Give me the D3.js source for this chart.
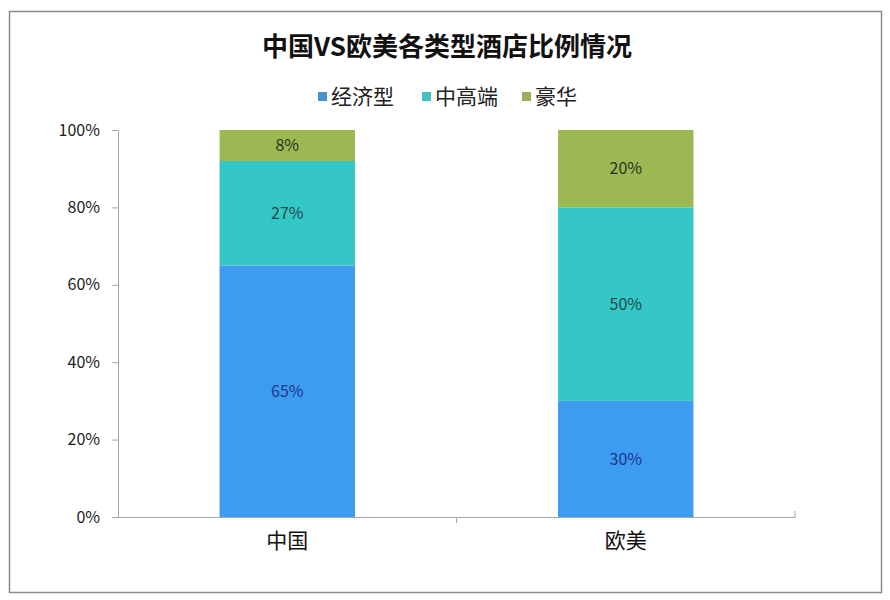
<!DOCTYPE html>
<html>
<head>
<meta charset="utf-8">
<script src="https://cdn.jsdelivr.net/npm/d3@7/dist/d3.min.js"></script>
<style>
  html, body { margin: 0; padding: 0; background: #fff; }
  svg { display: block; }
</style>
</head>
<body>
<svg id="chart" width="890" height="600"></svg>
<script>
// ---- data ----
const categories = ["中国", "欧美"];
const seriesNames = ["经济型", "中高端", "豪华"];
const economy = [65, 30];
const midHigh = [27, 50];
const luxury = [8, 20];
const yTicks = [0, 20, 40, 60, 80, 100];
const title = "中国VS欧美各类型酒店比例情况";

const colors = ["#3d9bf0", "#35c6c6", "#9bb852"];
const legendColors = ["#4a8fd0", "#45bfc0", "#9cae5c"];
const labelColors = ["#1f3590", "#1d4a50", "#2a3320"];

const svg = d3.select("#chart");
const font = "'Noto Sans CJK SC', 'Liberation Sans', sans-serif";

// outer frame
svg.append("rect").attr("x", 9.5).attr("y", 11.5).attr("width", 872).attr("height", 581)
  .attr("fill", "#fff").attr("stroke", "#8c8c8c").attr("stroke-width", 1.5);

// title
svg.append("text").attr("x", 447).attr("y", 56).attr("text-anchor", "middle")
  .attr("font-family", font).attr("font-weight", "bold").attr("font-size", 26)
  .attr("fill", "#111").text(title);

// scales
const x = d3.scaleBand().domain(categories).range([118, 795]).padding(0);
const y = d3.scaleLinear().domain([0, 100]).range([517, 130]);
const barW = x.bandwidth() * 0.4;

// stack
const rows = categories.map((c, i) => ({ cat: c, "经济型": economy[i], "中高端": midHigh[i], "豪华": luxury[i] }));
const stacked = d3.stack().keys(seriesNames)(rows);

const g = svg.append("g");
stacked.forEach((layer, li) => {
  g.selectAll(null).data(layer).enter().append("rect")
    .attr("x", d => x(d.data.cat) + (x.bandwidth() - barW) / 2)
    .attr("width", barW)
    .attr("y", d => y(d[1]))
    .attr("height", d => y(d[0]) - y(d[1]))
    .attr("fill", colors[li]);
  g.selectAll(null).data(layer).enter().append("text")
    .attr("x", d => x(d.data.cat) + x.bandwidth() / 2)
    .attr("y", d => (y(d[0]) + y(d[1])) / 2)
    .attr("dy", "0.35em")
    .attr("text-anchor", "middle")
    .attr("font-family", font).attr("font-size", 16)
    .attr("fill", labelColors[li])
    .text(d => (d[1] - d[0]) + "%");
});

// y axis
const yAxis = d3.axisLeft(y).tickValues(yTicks).tickFormat(d => d + "%").tickSize(6).tickPadding(12);
const ya = svg.append("g").attr("transform", "translate(118,0)").call(yAxis);
ya.select(".domain").attr("stroke", "#a6a6a6");
ya.selectAll(".tick line").attr("stroke", "#a6a6a6");
ya.selectAll(".tick text").attr("font-family", font).attr("font-size", 16).attr("fill", "#222");

// x axis
const xAxis = d3.axisBottom(x).tickSize(0).tickPadding(16);
const xa = svg.append("g").attr("transform", "translate(0,517)").call(xAxis);
xa.select(".domain").attr("stroke", "#a6a6a6");
xa.selectAll(".tick text").attr("font-family", font).attr("font-size", 21).attr("fill", "#111");
// category boundary ticks
xa.selectAll(null).data(categories.slice(1)).enter().append("line")
  .attr("x1", d => x(d)).attr("x2", d => x(d)).attr("y1", 0).attr("y2", 6)
  .attr("stroke", "#a6a6a6");
xa.append("line").attr("x1", 795).attr("x2", 795).attr("y1", -6).attr("y2", 0).attr("stroke", "#a6a6a6");

// legend
const legendX = [318, 422, 522];
const lg = svg.append("g");
seriesNames.forEach((s, i) => {
  lg.append("rect").attr("x", legendX[i]).attr("y", 92).attr("width", 9).attr("height", 9).attr("fill", legendColors[i]);
  lg.append("text").attr("x", legendX[i] + 13).attr("y", 97).attr("dy", "0.35em")
    .attr("font-family", font).attr("font-size", 21).attr("fill", "#222").text(s);
});
</script>
</body>
</html>
